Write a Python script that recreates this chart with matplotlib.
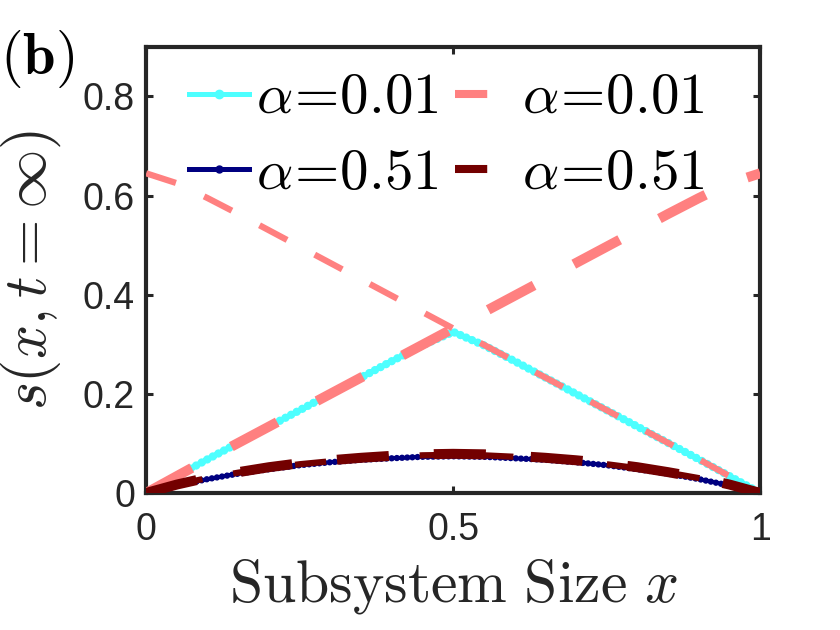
import matplotlib
matplotlib.use("Agg")
import matplotlib.pyplot as plt
from matplotlib.lines import Line2D

plt.rcParams["mathtext.fontset"] = "cm"
plt.rcParams["font.family"] = ["Liberation Sans", "DejaVu Sans"]

# subsystem size x
x = [0.00, 0.05, 0.10, 0.15, 0.20, 0.25, 0.30, 0.35, 0.40, 0.45, 0.50,
     0.55, 0.60, 0.65, 0.70, 0.75, 0.80, 0.85, 0.90, 0.95, 1.00]

# alpha = 0.01
s_001 = [0.000, 0.034, 0.068, 0.101, 0.134, 0.167, 0.200, 0.233, 0.266, 0.298, 0.325,
         0.298, 0.266, 0.233, 0.200, 0.167, 0.134, 0.101, 0.068, 0.034, 0.000]
s_001_up = [0.000, 0.034, 0.068, 0.101, 0.134, 0.167, 0.200, 0.233, 0.266, 0.299, 0.332,
            0.365, 0.398, 0.431, 0.464, 0.497, 0.530, 0.563, 0.595, 0.625, 0.645]
s_001_down = [0.645, 0.625, 0.595, 0.563, 0.530, 0.497, 0.464, 0.431, 0.398, 0.365, 0.332,
              0.299, 0.266, 0.233, 0.200, 0.167, 0.134, 0.101, 0.068, 0.034, 0.000]

# alpha = 0.51
s_051 = [0.000, 0.015, 0.028, 0.039, 0.048, 0.056, 0.062, 0.067, 0.070, 0.073, 0.074,
         0.073, 0.070, 0.067, 0.062, 0.056, 0.048, 0.039, 0.028, 0.015, 0.000]
s_051_a = [0.000, 0.017, 0.031, 0.042, 0.052, 0.060, 0.066, 0.071, 0.075, 0.078, 0.079,
           0.078, 0.075, 0.071, 0.066, 0.060, 0.052, 0.042, 0.031, 0.017, 0.000]
s_051_b = [0.000, 0.017, 0.030, 0.041, 0.050, 0.058, 0.064, 0.069, 0.073, 0.076, 0.077,
           0.076, 0.073, 0.069, 0.064, 0.058, 0.050, 0.041, 0.030, 0.017, 0.000]

labels = [r"$\alpha\!=\!0.01$", r"$\alpha\!=\!0.51$"]

c_cyan = "#4dffff"
c_navy = "#000080"
c_salmon = "#ff8080"
c_dred = "#730000"
c_axis = "#262626"

fig = plt.figure(figsize=(8.4, 6.3), dpi=100)
ax = fig.add_axes([0.174, 0.2175, 0.731, 0.708])

# solid lines with dense dots
ax.plot(x, s_001, color=c_cyan, lw=2.2, zorder=2)
ax.plot(x, s_001, color=c_cyan, lw=6, dashes=(0.01, 0.75),
        dash_capstyle="round", zorder=2)
ax.plot(x, s_051, color=c_navy, lw=2.0, zorder=2)
ax.plot(x, s_051, color=c_navy, lw=4.6, dashes=(0.01, 0.8),
        dash_capstyle="round", zorder=2)

# dashed lines
ax.plot(x, s_001_up, color=c_salmon, lw=7.2, dashes=(5.2, 4.5), zorder=3)
ax.plot(x, s_001_down, color=c_salmon, lw=4.5, dashes=(5.0, 5.0), zorder=3)
ax.plot(x[::-1], s_051_b[::-1], color=c_dred, lw=4.5, dashes=(5.0, 5.0), zorder=3)
ax.plot(x, s_051_a, color=c_dred, lw=7.2, dashes=(5.2, 4.5), zorder=4)

ax.set_xlim(0, 1)
ax.set_ylim(0, 0.9)
ax.set_xticks([0, 0.5, 1])
ax.set_xticklabels(["0", "0.5", "1"])
ax.set_yticks([0, 0.2, 0.4, 0.6, 0.8])
ax.set_yticklabels(["0", "0.2", "0.4", "0.6", "0.8"])
ax.tick_params(direction="in", length=5, width=2.2, labelsize=27,
               colors=c_axis, top=True, right=True, pad=8)
ax.tick_params(axis="x", pad=14)
for sp in ax.spines.values():
    sp.set_linewidth(3)
    sp.set_color(c_axis)

ax.set_xlabel(r"$\mathrm{Subsystem\ Size}\ x$", fontsize=43, color=c_axis, labelpad=6)
ax.set_ylabel(r"$s(x,t=\infty)$", fontsize=43, color=c_axis)
ax.yaxis.set_label_coords(-0.135, 0.5)

fig.text(0.0, 1 - 28 / 630, r"$\mathbf{(b)}$", fontsize=42, va="top", ha="left")

handles = [
    Line2D([], [], color=c_cyan, lw=3.6, marker="o", ms=6),
    Line2D([], [], color=c_navy, lw=3.6, marker="o", ms=5),
    Line2D([], [], color=c_salmon, lw=5.8, dashes=(4, 4)),
    Line2D([], [], color=c_dred, lw=5.8, dashes=(4, 4)),
]
ax.legend(handles, labels * 2, ncol=2, loc="upper left",
          bbox_to_anchor=(0.07, 0.945), frameon=False, fontsize=41,
          handlelength=1.05, handletextpad=0.12, columnspacing=0.3,
          labelspacing=0.38, borderpad=0, borderaxespad=0)

fig.savefig("out.png", dpi=100)
